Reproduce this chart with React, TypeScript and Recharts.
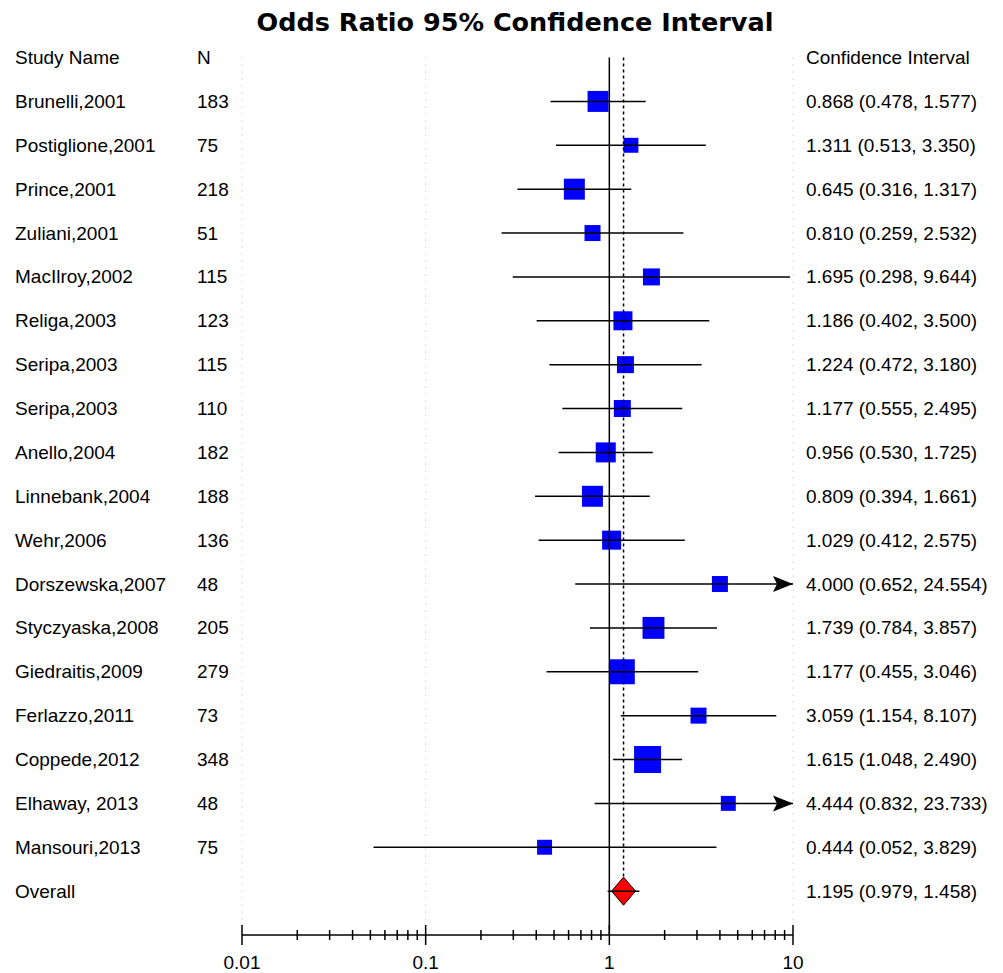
import React from "react";
import { ScatterChart, Scatter, XAxis, YAxis, ReferenceLine } from "recharts";

const studyNames = [
  "Brunelli,2001",
  "Postiglione,2001",
  "Prince,2001",
  "Zuliani,2001",
  "MacIlroy,2002",
  "Religa,2003",
  "Seripa,2003",
  "Seripa,2003",
  "Anello,2004",
  "Linnebank,2004",
  "Wehr,2006",
  "Dorszewska,2007",
  "Styczyaska,2008",
  "Giedraitis,2009",
  "Ferlazzo,2011",
  "Coppede,2012",
  "Elhaway, 2013",
  "Mansouri,2013",
];
const sampleSizes = [183, 75, 218, 51, 115, 123, 115, 110, 182, 188, 136, 48, 205, 279, 73, 348, 48, 75];
const oddsRatios = [0.868, 1.311, 0.645, 0.81, 1.695, 1.186, 1.224, 1.177, 0.956, 0.809, 1.029, 4.0, 1.739, 1.177, 3.059, 1.615, 4.444, 0.444];
const lowerCI = [0.478, 0.513, 0.316, 0.259, 0.298, 0.402, 0.472, 0.555, 0.53, 0.394, 0.412, 0.652, 0.784, 0.455, 1.154, 1.048, 0.832, 0.052];
const upperCI = [1.577, 3.35, 1.317, 2.532, 9.644, 3.5, 3.18, 2.495, 1.725, 1.661, 2.575, 24.554, 3.857, 3.046, 8.107, 2.49, 23.733, 3.829];
// relative study weight (%), drives the box area
const weights = [6.7, 3.4, 6.7, 3.9, 4.4, 5.5, 4.4, 4.4, 6.1, 6.7, 5.5, 3.9, 7.3, 9.5, 3.9, 11.1, 3.4, 3.4];
const overallOR = 1.195;
const overallLow = 0.979;
const overallHigh = 1.458;

const majorTicks = [0.01, 0.1, 1, 10];
const minorTicks = [
  0.02, 0.03, 0.04, 0.05, 0.06, 0.07, 0.08, 0.09,
  0.2, 0.3, 0.4, 0.5, 0.6, 0.7, 0.8, 0.9,
  2, 3, 4, 5, 6, 7, 8, 9,
];

const X_MIN = 0.01;
const X_MAX = 10;
const OVERALL_ROW = studyNames.length + 1;

const fmt = (v: number) => v.toFixed(3);

const rows = [
  { name: "Study Name", n: "N", ci: "Confidence Interval" },
  ...studyNames.map((name, i) => ({
    name,
    n: String(sampleSizes[i]),
    ci: `${fmt(oddsRatios[i])} (${fmt(lowerCI[i])}, ${fmt(upperCI[i])})`,
  })),
  { name: "Overall", n: "", ci: `${fmt(overallOR)} (${fmt(overallLow)}, ${fmt(overallHigh)})` },
];
const rowTicks = rows.map((_, i) => i);

const boxes = oddsRatios.map((or, i) => ({ x: or, y: i + 1, weight: weights[i] }));
const arrows = upperCI
  .map((hi, i) => ({ x: X_MAX, y: i + 1, hi }))
  .filter((d) => d.hi > X_MAX);
const overallPoint = [{ x: overallOR, y: OVERALL_ROW }];

const FONT = "'Liberation Sans', Arial, sans-serif";

const RowTick = (props: any) => {
  const { y, payload } = props;
  const row = rows[payload.value];
  if (!row) return null;
  const common = { y, fontSize: 19, fontFamily: FONT, fill: "#000", dominantBaseline: "central" as const };
  return (
    <g>
      <text x={15} {...common}>{row.name}</text>
      <text x={197} {...common}>{row.n}</text>
      <text x={806} {...common}>{row.ci}</text>
    </g>
  );
};

const AxisTick = (props: any) => {
  const { x, y, payload } = props;
  const major = majorTicks.includes(payload.value);
  const h = major ? 10 : 5;
  return (
    <g>
      <line x1={x} x2={x} y1={y - h} y2={y + h} stroke="#000" strokeWidth={1.5} />
      {major && (
        <text x={x} y={y + 27} textAnchor="middle" dominantBaseline="central" fontSize={19} fontFamily={FONT} fill="#000">
          {String(payload.value)}
        </text>
      )}
    </g>
  );
};

const Box = (props: any) => {
  const { cx, cy, payload } = props;
  const s = 8.1 * Math.sqrt(payload.weight);
  return <rect x={cx - s / 2} y={cy - s / 2} width={s} height={s} fill="#0000ff" />;
};

const Arrow = (props: any) => {
  const { cx, cy } = props;
  return <polygon points={`${cx},${cy} ${cx - 20},${cy - 8} ${cx - 16},${cy} ${cx - 20},${cy + 8}`} fill="#000" />;
};

const Diamond = (props: any) => {
  const { cx, cy } = props;
  return (
    <polygon
      points={`${cx - 12},${cy} ${cx},${cy - 14} ${cx + 12},${cy} ${cx},${cy + 14}`}
      fill="#ff0000"
      stroke="#000"
      strokeWidth={1}
    />
  );
};

export default function App() {
  return (
    <div style={{ position: "absolute", left: 0, top: 0, width: 1003, height: 973, background: "#fff" }}>
      <div
        style={{
          position: "absolute",
          left: 0,
          top: 7,
          width: 1030,
          textAlign: "center",
          fontFamily: "'DejaVu Sans', sans-serif",
          fontWeight: "bold",
          fontSize: 25.5,
          lineHeight: "30px",
          color: "#000",
        }}
      >
        Odds Ratio 95% Confidence Interval
      </div>
      <ScatterChart width={1003} height={973} margin={{ top: 40, right: 210, bottom: 0, left: 0 }}>
        <XAxis
          type="number"
          dataKey="x"
          scale="log"
          domain={[X_MIN, X_MAX]}
          ticks={[...majorTicks, ...minorTicks]}
          interval={0}
          height={38}
          tickSize={0}
          tickMargin={0}
          tickLine={false}
          axisLine={{ stroke: "#000", strokeWidth: 1.5 }}
          tick={<AxisTick />}
        />
        <YAxis
          type="number"
          dataKey="y"
          domain={[-0.4, 20]}
          reversed
          ticks={rowTicks}
          interval={0}
          width={242}
          axisLine={false}
          tickLine={false}
          tick={<RowTick />}
        />
        {[X_MIN, 0.1, X_MAX].map((v) => (
          <ReferenceLine
            key={"g" + v}
            segment={[{ x: v, y: 0 }, { x: v, y: 19.8 }]}
            stroke="#b0b0b0"
            strokeDasharray="1 6"
          />
        ))}
        <Scatter data={boxes} shape={<Box />} isAnimationActive={false} zIndex={100} />
        <Scatter data={overallPoint} shape={<Diamond />} isAnimationActive={false} zIndex={100} />
        {oddsRatios.map((_, i) => (
          <ReferenceLine
            key={"ci" + i}
            segment={[{ x: lowerCI[i], y: i + 1 }, { x: Math.min(upperCI[i], X_MAX), y: i + 1 }]}
            stroke="#000"
            strokeWidth={1.5}
          />
        ))}
        <ReferenceLine segment={[{ x: 1, y: 0 }, { x: 1, y: 20 }]} stroke="#000" strokeWidth={1.5} />
        <ReferenceLine
          segment={[{ x: overallOR, y: 0 }, { x: overallOR, y: OVERALL_ROW - 0.3 }]}
          stroke="#000"
          strokeWidth={1.5}
          strokeDasharray="3 3"
        />
        <ReferenceLine
          segment={[{ x: overallLow, y: OVERALL_ROW }, { x: overallHigh, y: OVERALL_ROW }]}
          stroke="#000"
          strokeWidth={1.5}
        />
        <Scatter data={arrows} shape={<Arrow />} isAnimationActive={false} />
      </ScatterChart>
    </div>
  );
}
